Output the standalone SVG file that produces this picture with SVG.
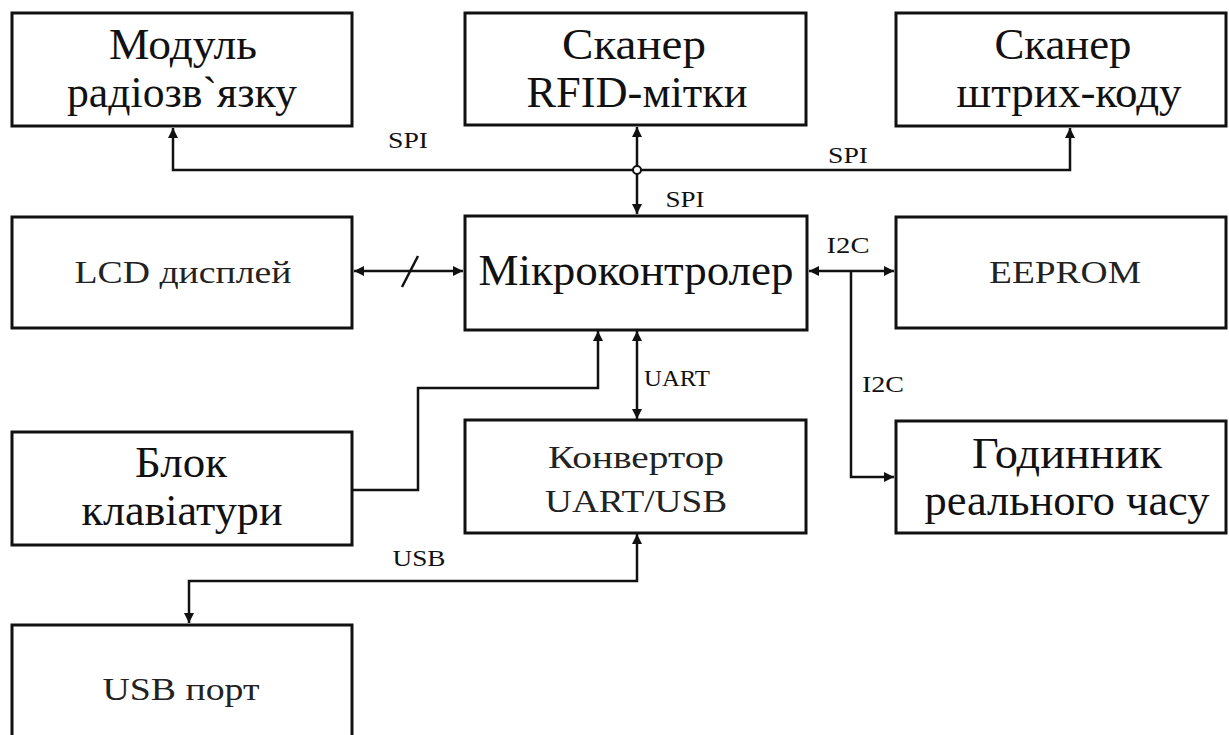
<svg xmlns="http://www.w3.org/2000/svg" width="1229" height="735" viewBox="0 0 1229 735">
<style>
.box{fill:#fff;stroke:#111;stroke-width:3}
text{font-family:"Liberation Serif","Times New Roman",serif;fill:#111;text-anchor:middle}
.big{font-size:44px}
.mid{font-size:32px;fill:#222}
.lbl{font-size:24px}
.ln{fill:none;stroke:#111;stroke-width:2.5}
</style>
<defs>
<marker id="ah" viewBox="0 0 10 10" refX="10" refY="5" markerWidth="12" markerHeight="10" markerUnits="userSpaceOnUse" orient="auto-start-reverse">
<path d="M0,0 L10,5 L0,10 z" fill="#111"/>
</marker>
</defs>
<rect width="1229" height="735" fill="#fff"/>

<g id="connectors">
<path class="ln" d="M173,128 V170 H1070 V128" marker-start="url(#ah)" marker-end="url(#ah)"/>
<line class="ln" x1="637" y1="127" x2="637" y2="214" marker-start="url(#ah)" marker-end="url(#ah)"/>
<circle cx="637" cy="170" r="4" fill="#fff" stroke="#111" stroke-width="2"/>
<line class="ln" x1="354" y1="271" x2="463" y2="271" marker-start="url(#ah)" marker-end="url(#ah)"/>
<line class="ln" x1="402" y1="287" x2="418" y2="256"/>
<line class="ln" x1="809" y1="271" x2="894" y2="271" marker-start="url(#ah)" marker-end="url(#ah)"/>
<path class="ln" d="M851,271 V477 H894" marker-end="url(#ah)"/>
<path class="ln" d="M352,490 H418 V388 H598 V331" marker-end="url(#ah)"/>
<line class="ln" x1="637" y1="331" x2="637" y2="419" marker-start="url(#ah)" marker-end="url(#ah)"/>
<path class="ln" d="M189,623 V581 H637 V534" marker-start="url(#ah)" marker-end="url(#ah)"/>
<text class="lbl" x="408" y="148" textLength="40" lengthAdjust="spacingAndGlyphs">SPI</text>
<text class="lbl" x="848" y="163" textLength="40" lengthAdjust="spacingAndGlyphs">SPI</text>
<text class="lbl" x="685" y="207" textLength="39" lengthAdjust="spacingAndGlyphs">SPI</text>
<text class="lbl" x="848" y="253" textLength="43" lengthAdjust="spacingAndGlyphs">I2C</text>
<text class="lbl" x="883" y="392" textLength="42" lengthAdjust="spacingAndGlyphs">I2C</text>
<text class="lbl" x="677" y="386" textLength="66" lengthAdjust="spacingAndGlyphs">UART</text>
<text class="lbl" x="419" y="566" textLength="53" lengthAdjust="spacingAndGlyphs">USB</text>
</g>

<g id="radio">
<rect class="box" x="12" y="13" width="340" height="113"/>
<text class="big" x="183" y="59" textLength="148" lengthAdjust="spacingAndGlyphs">Модуль</text>
<text class="big" x="182" y="107" textLength="230" lengthAdjust="spacingAndGlyphs">радіозв`язку</text>
</g>
<g id="rfid">
<rect class="box" x="465" y="13" width="341" height="112"/>
<text class="big" x="634" y="59" textLength="144" lengthAdjust="spacingAndGlyphs">Сканер</text>
<text class="big" x="637" y="107" textLength="221" lengthAdjust="spacingAndGlyphs">RFID-мітки</text>
</g>
<g id="barcode">
<rect class="box" x="896" y="13" width="330" height="113"/>
<text class="big" x="1063" y="59" textLength="137" lengthAdjust="spacingAndGlyphs">Сканер</text>
<text class="big" x="1069" y="107" textLength="225" lengthAdjust="spacingAndGlyphs">штрих-коду</text>
</g>
<g id="lcd">
<rect class="box" x="12" y="217" width="340" height="111"/>
<text class="mid" x="183" y="283" textLength="217" lengthAdjust="spacingAndGlyphs">LCD дисплей</text>
</g>
<g id="mcu">
<rect class="box" x="465" y="216" width="342" height="114"/>
<text class="big" x="636" y="285" textLength="315" lengthAdjust="spacingAndGlyphs">Мікроконтролер</text>
</g>
<g id="eeprom">
<rect class="box" x="896" y="217" width="330" height="111"/>
<text class="mid" x="1065" y="283" textLength="152" lengthAdjust="spacingAndGlyphs">EEPROM</text>
</g>
<g id="keyboard">
<rect class="box" x="12" y="432" width="340" height="113"/>
<text class="big" x="181" y="477" textLength="92" lengthAdjust="spacingAndGlyphs">Блок</text>
<text class="big" x="182" y="525" textLength="201" lengthAdjust="spacingAndGlyphs">клавіатури</text>
</g>
<g id="converter">
<rect class="box" x="465" y="420" width="341" height="113"/>
<text class="mid" x="636" y="468" textLength="176" lengthAdjust="spacingAndGlyphs">Конвертор</text>
<text class="mid" x="636" y="512" textLength="182" lengthAdjust="spacingAndGlyphs">UART/USB</text>
</g>
<g id="rtc">
<rect class="box" x="896" y="421" width="330" height="112"/>
<text class="big" x="1067" y="468" textLength="190" lengthAdjust="spacingAndGlyphs">Годинник</text>
<text class="big" x="1067" y="515" textLength="285" lengthAdjust="spacingAndGlyphs">реального часу</text>
</g>
<g id="usbport">
<rect class="box" x="12" y="625" width="340" height="115"/>
<text class="mid" x="181" y="700" textLength="157" lengthAdjust="spacingAndGlyphs">USB порт</text>
</g>
</svg>
